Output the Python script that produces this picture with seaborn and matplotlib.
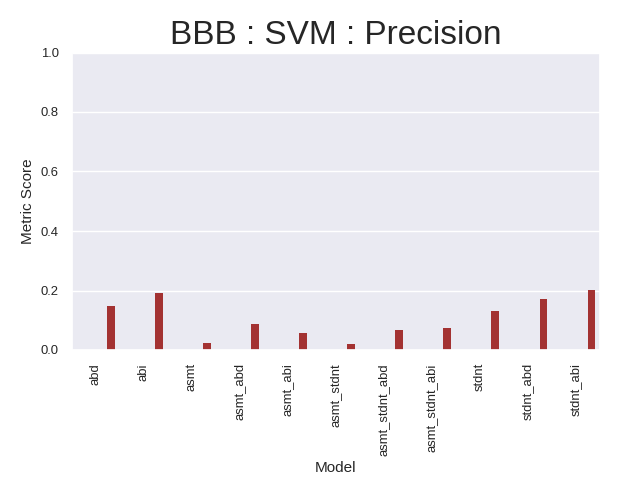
import pandas as pd
import seaborn as sns
import matplotlib
matplotlib.use('Agg')
import matplotlib.pyplot as plt

sns.set_theme(style='darkgrid', font_scale=0.85)
plt.rcParams['font.family'] = ['Liberation Sans', 'DejaVu Sans']

models = ['abd', 'abi', 'asmt', 'asmt_abd', 'asmt_abi', 'asmt_stdnt',
          'asmt_stdnt_abd', 'asmt_stdnt_abi', 'stdnt', 'stdnt_abd', 'stdnt_abi']
precision = [0.148, 0.192, 0.022, 0.088, 0.057, 0.020, 0.067, 0.073, 0.132, 0.172, 0.203]
metrics = ['Accuracy', 'Recall', 'F1', 'AUC', 'Precision']

# only precision is shown, other hue slots stay empty
rows = []
for m, p in zip(models, precision):
    for met in metrics:
        rows.append({'Model': m, 'Metric': met, 'Score': p if met == 'Precision' else 0.0})
df = pd.DataFrame(rows)

fig, ax = plt.subplots(figsize=(6.25, 5), dpi=100)
sns.barplot(data=df, x='Model', y='Score', hue='Metric', hue_order=metrics,
            palette=['#a33232'] * 5, saturation=1, linewidth=0, ax=ax, legend=False)
ax.set_ylim(0, 1.0)
ax.set_title('BBB : SVM : Precision', fontsize=24)
ax.set_ylabel('Metric Score', fontsize=11)
ax.set_xlabel('Model', fontsize=11)
plt.xticks(rotation=90)
plt.subplots_adjust(left=0.115, right=0.96, top=0.895, bottom=0.3)
plt.savefig('out.png')
